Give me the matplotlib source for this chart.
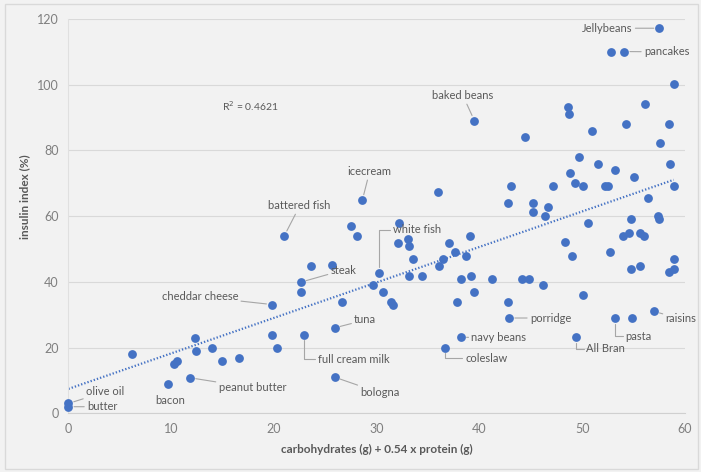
import matplotlib
matplotlib.use("Agg")
import matplotlib.pyplot as plt
import numpy as np

plt.rcParams['font.family'] = ['Lato', 'DejaVu Sans']

# labelled foods: name, carbs + 0.54 x protein (g), insulin index (%)
food_names = ['olive oil', 'butter', 'bacon', 'peanut butter', 'cheddar cheese',
              'battered fish', 'steak', 'full cream milk', 'tuna', 'bologna',
              'icecream', 'white fish', 'coleslaw', 'navy beans', 'baked beans',
              'porridge', 'All Bran', 'pasta', 'raisins', 'pancakes', 'Jellybeans']
food_x = [0.0, 0.0, 9.7, 11.85, 19.8, 21.0, 22.6, 22.9, 25.9, 25.9,
          28.6, 30.2, 36.65, 38.2, 39.5, 42.9, 49.4, 53.2, 57.0, 54.1, 57.5]
food_y = [3.0, 2.0, 8.8, 10.8, 33.1, 54.0, 39.9, 23.9, 26.0, 11.0,
          64.9, 42.8, 19.9, 23.1, 89.1, 29.0, 23.1, 29.0, 31.0, 110.1, 117.2]

# the other (unlabelled) foods
other_x = [6.2, 10.3, 10.55, 12.3, 12.4, 14.0, 14.9, 16.6, 19.8, 20.3,
           22.6, 23.6, 25.6, 26.6, 27.5, 28.1, 29.65, 30.6, 31.4, 31.6,
           32.1, 32.2, 33.0, 33.15, 33.5, 33.1, 34.4, 36.0, 36.1, 36.4,
           37.0, 37.6, 38.7, 37.8, 38.2, 39.1, 39.2, 39.5, 41.2, 42.8,
           42.8, 43.1, 44.1, 44.8, 44.4, 45.2, 45.2, 46.2, 46.35, 46.7,
           47.2, 48.3, 48.6, 48.7, 48.8, 49.0, 49.3, 49.7, 50.1, 50.1,
           50.6, 50.9, 51.5, 52.2, 52.5, 52.7, 52.8, 53.2, 54.0, 54.3,
           54.5, 54.7, 54.7, 54.8, 55.0, 55.6, 55.6, 56.0, 56.1, 56.4,
           57.4, 57.5, 57.6, 58.4, 58.4, 58.5, 58.9, 58.9, 58.9, 58.9]
other_y = [18.0, 14.9, 15.9, 22.9, 19.0, 19.9, 15.9, 16.9, 23.9, 19.9,
           36.9, 44.9, 45.0, 34.0, 57.0, 54.0, 39.0, 36.9, 34.0, 33.1,
           51.9, 58.0, 53.0, 50.9, 47.0, 41.9, 41.9, 67.2, 44.9, 47.0,
           51.9, 49.0, 48.0, 34.0, 41.0, 54.1, 41.9, 36.9, 41.0, 34.0,
           64.1, 69.1, 41.0, 41.0, 84.2, 64.1, 61.2, 39.0, 60.1, 62.9,
           69.1, 52.1, 93.2, 91.0, 73.1, 48.0, 70.0, 78.0, 69.1, 36.0,
           58.0, 86.0, 76.0, 69.1, 69.1, 49.0, 110.1, 74.1, 54.0, 88.1,
           55.0, 59.0, 44.0, 29.0, 72.0, 55.0, 44.9, 54.0, 94.2, 65.4,
           60.1, 59.1, 82.2, 88.1, 42.9, 76.0, 100.2, 69.1, 47.0, 44.0]

r2_text = 'R$^2$ = 0.4621'

# where each label text sits (data coords), alignment, leader line style
label_pos = {
    'olive oil':       (1.7, 6.5, 'left', 'arc3'),
    'butter':          (1.8, 2.0, 'left', 'arc3'),
    'bacon':           (9.9, 4.0, 'center', None),
    'peanut butter':   (14.6, 7.8, 'left', 'arc3'),
    'cheddar cheese':  (12.8, 35.5, 'center', 'arc3'),
    'battered fish':   (22.5, 63.1, 'center', 'arc3'),
    'steak':           (25.5, 43.6, 'left', 'arc3'),
    'full cream milk': (24.3, 16.5, 'left', 'angle,angleA=0,angleB=90,rad=0'),
    'tuna':            (27.8, 28.4, 'left', 'arc3'),
    'bologna':         (28.4, 6.2, 'left', 'arc3'),
    'icecream':        (29.3, 73.5, 'center', 'arc3'),
    'white fish':      (31.6, 55.8, 'left', 'angle,angleA=0,angleB=90,rad=0'),
    'coleslaw':        (38.6, 16.8, 'left', 'angle,angleA=0,angleB=90,rad=0'),
    'navy beans':      (39.2, 23.2, 'left', 'arc3'),
    'baked beans':     (38.4, 96.6, 'center', 'arc3'),
    'porridge':        (44.9, 29.0, 'left', 'arc3'),
    'All Bran':        (50.4, 19.6, 'left', 'angle,angleA=0,angleB=90,rad=0'),
    'pasta':           (54.2, 23.5, 'left', 'angle,angleA=0,angleB=90,rad=0'),
    'raisins':         (58.1, 28.7, 'left', 'arc3'),
    'pancakes':        (56.0, 110.0, 'left', 'arc3'),
    'Jellybeans':      (54.9, 117.2, 'right', 'arc3'),
}

blue = '#4472C4'
grey_txt = '#595959'
bg = '#F2F2F2'

fig = plt.figure(figsize=(7.01, 4.72), dpi=100, facecolor=bg)
fig.patches.append(matplotlib.patches.Rectangle((0.007, 0.006), 0.989, 0.985,
                   transform=fig.transFigure, fill=False, edgecolor='#D9D9D9', lw=1))
ax = fig.add_axes([0.0977, 0.1244, 0.8795, 0.8353])
ax.set_facecolor(bg)

all_x = np.array(food_x + other_x)
all_y = np.array(food_y + other_y)

ax.scatter(all_x, all_y, s=40, color=blue, zorder=3, linewidths=0, clip_on=False)

# linear trendline over the data range
slope, icpt = np.polyfit(all_x, all_y, 1)
tx = np.array([all_x.min(), all_x.max()])
ax.plot(tx, icpt + slope * tx, color=blue, lw=1.6, linestyle=(0, (0.6, 0.9)), zorder=2)

for name, x, y in zip(food_names, food_x, food_y):
    lx, ly, ha, cs = label_pos[name]
    props = None
    if cs is not None:
        props = dict(arrowstyle='-', color='#A6A6A6', lw=0.8, shrinkA=0, shrinkB=4,
                     connectionstyle=cs)
    ax.annotate(name, xy=(x, y), xytext=(lx, ly), ha=ha, va='center',
                fontsize=8, color=grey_txt, arrowprops=props, zorder=4)

ax.text(14.9, 93.4, r2_text, fontsize=7.5, color=grey_txt, ha='left', va='center')

ax.set_xlim(0, 60)
ax.set_ylim(0, 120)
ax.set_xticks(np.arange(0, 61, 10))
ax.set_yticks(np.arange(0, 121, 20))
ax.grid(axis='y', color='#D9D9D9', lw=0.8)
ax.set_axisbelow(True)
for s in ['top', 'right']:
    ax.spines[s].set_visible(False)
ax.spines['left'].set_color('#E0E0E0')
ax.spines['bottom'].set_color('#D0D0D0')
ax.tick_params(length=0, labelsize=9, labelcolor='#7F7F7F', pad=7)

ax.set_xlabel('carbohydrates (g) + 0.54 x protein (g)', fontsize=8.5, weight='bold',
              color=grey_txt)
ax.set_ylabel('insulin index (%)', fontsize=8.5, weight='bold', color=grey_txt)
ax.xaxis.set_label_coords(0.5, -0.078)
ax.yaxis.set_label_coords(-0.062, 0.55)

fig.savefig('out.png', dpi=100, facecolor=bg)
